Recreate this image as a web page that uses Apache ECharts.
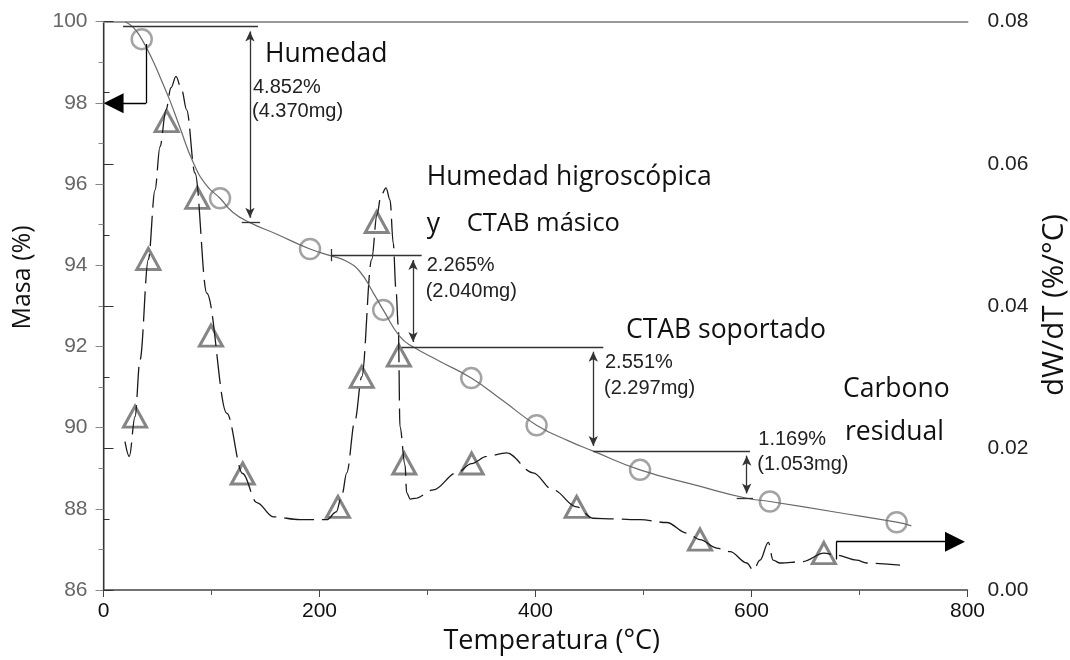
<!DOCTYPE html>
<html>
<head>
<meta charset="utf-8">
<script src="https://cdn.jsdelivr.net/npm/echarts@6/dist/echarts.min.js"></script>
<style>
  html, body { margin: 0; padding: 0; background: #fff; }
  #chart { width: 1070px; height: 660px; }
</style>
</head>
<body>
<div id="chart"></div>
<script>
// Curva de masa (TGA)
const massT = [20, 28, 35.4, 45, 55, 61.6, 70, 83.1, 95, 107.9, 120, 135.6, 160, 191.2, 211, 225, 237.5, 249.8, 259, 274.5, 286.6, 311.6, 340.5, 370, 401, 430, 453.5, 496.8, 550, 595.6, 617, 680, 734.4, 748]
const massV = [100.0, 99.85, 99.57, 99.08, 98.47, 98.05, 97.45, 96.53, 95.98, 95.65, 95.30, 95.05, 94.77, 94.40, 94.23, 94.10, 93.84, 93.32, 92.90, 92.24, 91.99, 91.63, 91.22, 90.66, 90.06, 89.68, 89.42, 88.96, 88.57, 88.26, 88.18, 87.91, 87.67, 87.58]

// marcadores circulares sobre la curva de masa
const circT = [35.4, 107.9, 191.2, 259, 340.5, 401, 496.8, 617, 734.4]
const circV = [99.57, 95.65, 94.40, 92.90, 91.22, 90.06, 88.96, 88.18, 87.67]

// Curva derivada dW/dT (DTG)
const dtgT = [19.9, 23.9, 29.2, 33.8, 41.5, 47.7, 52.3, 57.9, 62.5, 67.1, 72.4, 77.0, 84.7, 95.6, 114.1, 128.9, 141.9, 157.2, 181.9, 206.9, 215.5, 220.8, 225.2, 232.9, 239.1, 248.3, 253.2, 256.9, 261.6, 265.3, 268.3, 270.8, 273.0, 274.5, 279.2, 280.7, 284.0, 288.4, 305.4, 327.0, 340.9, 354.8, 373.3, 397.7, 416.2, 438.1, 453.2, 471.8, 496.8, 521.5, 540.0, 552.3, 567.8, 580.1, 595.6, 601.7, 607.9, 615.6, 620.0, 626.4, 647.7, 667.0, 678.9, 697.4, 706.7, 737.5]
const dtgV = [0.0209, 0.0188, 0.0244, 0.0324, 0.0465, 0.0563, 0.0624, 0.0676, 0.0707, 0.0723, 0.0704, 0.0676, 0.0587, 0.0418, 0.0249, 0.0164, 0.0123, 0.0103, 0.0099, 0.0099, 0.0110, 0.0134, 0.0165, 0.0239, 0.0300, 0.0465, 0.0528, 0.0555, 0.0566, 0.0549, 0.0488, 0.0423, 0.0371, 0.0230, 0.0176, 0.0137, 0.0128, 0.0129, 0.0141, 0.0165, 0.0178, 0.0188, 0.0193, 0.0165, 0.0141, 0.0117, 0.0101, 0.0100, 0.0099, 0.0095, 0.0080, 0.0071, 0.0059, 0.0054, 0.0038, 0.0028, 0.0042, 0.0067, 0.0042, 0.0038, 0.0040, 0.0052, 0.0049, 0.0042, 0.0038, 0.0035]

// marcadores triangulares sobre la DTG
const triT = [29.2, 41.5, 58.5, 86.9, 99.5, 128.9, 217.1, 239.1, 253.0, 273.5, 278.5, 340.9, 438.1, 552.3, 667.0]
const triV = [0.0244, 0.0466, 0.0660, 0.0552, 0.0358, 0.0164, 0.0117, 0.0300, 0.0518, 0.0330, 0.0178, 0.0178, 0.0117, 0.0071, 0.0052]

// escalones de pérdida de masa: [T de la flecha, masa inicial, masa final]
const stepT = [135.6, 286.6, 453.5, 595.6]
const stepTop = [99.88, 94.25, 91.99, 89.43]
const stepBottom = [95.05, 91.99, 89.43, 88.26]
const stepPct = ['4.852%', '2.265%', '2.551%', '1.169%']
const stepMg = ['(4.370mg)', '(2.040mg)', '(2.297mg)', '(1.053mg)']

const xTicks = [0, 200, 400, 600, 800]

const zip = (a, b) => a.map((v, i) => [v, b[i]])

const chart = echarts.init(document.getElementById('chart'))

const seg = (a, b) => [{ coord: a, symbol: 'none' }, { coord: b, symbol: 'none' }]
const dbl = (t, y1, y2) => [
  { coord: [t, y1], symbol: 'arrow', symbolSize: [7, 10] },
  { coord: [t, y2], symbol: 'arrow', symbolSize: [7, 10] }
]

// anotaciones de los escalones (coordenadas T / masa)
const aHead = 0.12
const massLines = [
  seg([18.1, 99.88], [143, 99.88]),
  seg([23.6, 100.04], [23.6, 99.72]),
  dbl(stepT[0], stepTop[0] - aHead, stepBottom[0] + aHead),
  seg([128, 95.05], [145, 95.05]),

  seg([211.3, 94.40], [211.3, 94.10]),
  seg([211.3, 94.25], [294.6, 94.25]),
  dbl(stepT[1], stepTop[1] - aHead, stepBottom[1] + aHead),
  seg([276, 91.99], [462.8, 91.99]),

  dbl(stepT[2], stepTop[2] - aHead, stepBottom[2] + aHead),
  seg([453.5, 89.43], [598.6, 89.43]),

  dbl(stepT[3], stepTop[3] - aHead, stepBottom[3] + aHead),
  seg([586.3, 88.26], [601.4, 88.26])
]
// flechas que indican el eje de cada curva
const axisArrowMass = [
  seg([39.4, 99.45], [39.4, 97.99]),
  [{ coord: [39.4, 97.99], symbol: 'none' }, { coord: [9.3, 97.99], symbol: 'triangle', symbolSize: [20, 20] }]
]
const axisArrowDtg = [
  seg([678.5, 0.0043], [678.5, 0.0068]),
  [{ coord: [678.5, 0.0068], symbol: 'none' }, { coord: [788.4, 0.0068], symbol: 'triangle', symbolSize: [20, 20] }]
]

const bigFont = '"Open Sans", "Noto Sans", sans-serif'
const smallFont = '"Liberation Sans", Arial, sans-serif'
const txt = (text, x, y, size, font, color, rot) => ({
  type: 'text', x: x, y: y, rotation: rot || 0, silent: true,
  style: {
    text: text, fill: color || '#111', font: size + 'px ' + font,
    align: rot ? 'center' : 'left', verticalAlign: 'middle'
  }
})

const stepLabelPos = [[253, 87.5, 111.7], [426.7, 265.8, 291.7], [605, 362.5, 388.3], [758.3, 439.2, 464.2]]
const graphics = [
  txt('Humedad', 265, 54, 26.5, bigFont),
  txt('Humedad higroscópica', 426.7, 177.5, 26.5, bigFont),
  txt('y', 426.7, 224, 26.5, bigFont),
  txt('CTAB másico', 466.7, 224, 25.5, bigFont),
  txt('CTAB soportado', 626, 330.5, 26.5, bigFont),
  txt('Carbono', 843, 389, 26.5, bigFont),
  txt('residual', 845, 432.5, 26.5, bigFont),
  txt('Masa (%)', 22.5, 277.5, 25, bigFont, '#111', Math.PI / 2),
  txt('dW/dT (%/°C)', 1055, 305, 29.5, bigFont, '#111', Math.PI / 2),
  { type: 'text', x: 551.7, y: 641, silent: true,
    style: { text: 'Temperatura (°C)', fill: '#111', font: '27px ' + bigFont, align: 'center', verticalAlign: 'middle' } }
]
stepLabelPos.forEach((p, i) => {
  graphics.push(txt(stepPct[i], p[0], p[1], 20, smallFont, '#222'))
  graphics.push(txt(stepMg[i], p[0] - 1, p[2], 20, smallFont, '#222'))
})

const markStyle = (color, data) => ({
  silent: true, label: { show: false }, symbol: 'none', animation: false,
  lineStyle: { color: color, width: 1.3, type: 'solid' },
  itemStyle: { color: color },
  emphasis: { disabled: true },
  data: data
})

chart.setOption({
  animation: false,
  textStyle: { fontFamily: smallFont },
  grid: { left: 103.5, right: 102.5, top: 21.7, bottom: 70, containLabel: false, outerBoundsMode: 'none' },
  xAxis: [
    {
      type: 'value', min: xTicks[0], max: xTicks[xTicks.length - 1], interval: 200,
      axisLine: { lineStyle: { color: '#444', width: 1.5 } },
      axisTick: { length: 7, lineStyle: { color: '#444' } },
      minorTick: { show: true, splitNumber: 2, length: 5, lineStyle: { color: '#555' } },
      axisLabel: { fontSize: 21, color: '#111', margin: 11 },
      splitLine: { show: false }
    },
    {
      type: 'value', position: 'top', min: 0, max: 800,
      axisLine: { show: true, lineStyle: { color: '#999', width: 2 } },
      axisTick: { show: false }, axisLabel: { show: false }, splitLine: { show: false }
    }
  ],
  yAxis: [
    {
      type: 'value', min: 86, max: 100, interval: 2,
      axisLine: { show: true, lineStyle: { color: '#888', width: 1.5 } },
      axisTick: { show: true, length: 8, lineStyle: { color: '#888' } },
      minorTick: { show: true, splitNumber: 2, length: 5, lineStyle: { color: '#888' } },
      axisLabel: { fontSize: 21, color: '#666', margin: 16 },
      splitLine: { show: false }
    },
    {
      type: 'value', min: 0, max: 0.08, interval: 0.02, position: 'right',
      axisLine: { show: true, lineStyle: { color: '#333', width: 1.2 } },
      axisTick: { show: true, length: 10, lineStyle: { color: '#333' } },
      minorTick: { show: true, splitNumber: 2, length: 6, lineStyle: { color: '#333' } },
      axisLabel: { fontSize: 21, color: '#222', margin: 20, formatter: v => v.toFixed(2) },
      splitLine: { show: false }
    }
  ],
  series: [
    {
      name: 'DTG', type: 'line', yAxisIndex: 1, data: zip(dtgT, dtgV),
      smooth: 0.35, smoothMonotone: 'x', showSymbol: false, silent: true,
      lineStyle: { color: '#1a1a1a', width: 1.3, type: [30, 8] },
      markLine: markStyle('#000', axisArrowDtg)
    },
    {
      name: 'Masa', type: 'line', data: zip(massT, massV),
      smooth: 0.5, showSymbol: false, silent: true,
      lineStyle: { color: '#6a6a6a', width: 1.2 },
      markLine: markStyle('#333', massLines)
    },
    {
      name: 'circ', type: 'scatter', data: zip(circT, circV), silent: true,
      symbol: 'circle', symbolSize: 20,
      itemStyle: { color: 'rgba(0,0,0,0)', borderColor: '#8c8c8c', borderWidth: 2.5 },
      markLine: markStyle('#000', axisArrowMass)
    },
    {
      name: 'tri', type: 'scatter', yAxisIndex: 1, data: zip(triT, triV), silent: true,
      symbol: 'triangle', symbolSize: [23, 21],
      itemStyle: { color: 'rgba(0,0,0,0)', borderColor: '#666', borderWidth: 3 }
    }
  ],
  graphic: graphics
})
</script>
</body>
</html>
